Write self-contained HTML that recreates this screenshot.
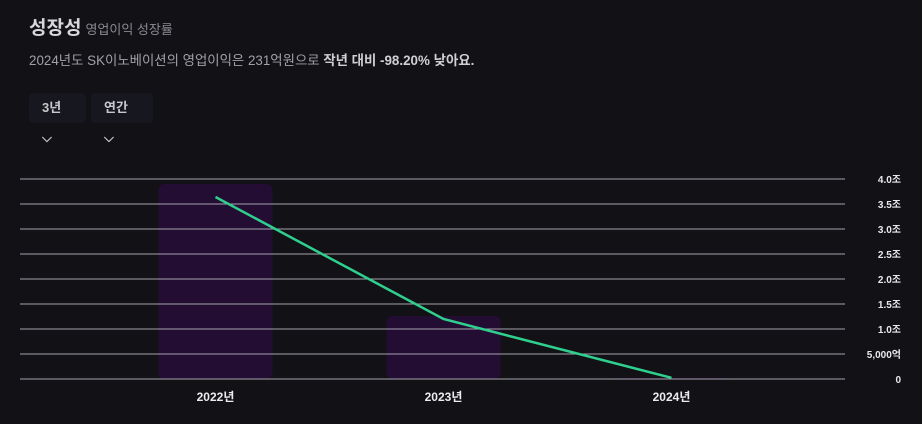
<!DOCTYPE html>
<html><head><meta charset="utf-8"><style>
body{margin:0;width:922px;height:424px;background:#111116;font-family:"Liberation Sans","Noto Sans CJK KR",sans-serif;overflow:hidden;position:relative}
.t{position:absolute;left:29px;top:13px;color:#d8d8dc;font-size:19px;font-weight:bold}
.t span{font-size:13px;font-weight:normal;color:#8a8a92;margin-left:4px}
.d{position:absolute;left:29px;top:49px;color:#a0a0a8;font-size:13.4px;white-space:nowrap}
.d b{color:#d0d0d4}
.btn{position:absolute;top:93px;height:30px;background:#17171f;border-radius:4px;color:#c8c8cc;font-size:13px;font-weight:bold;line-height:30px;padding:0 13px;box-sizing:border-box}
svg{position:absolute;left:0;top:0}
</style></head><body>
<div class="t">성장성<span>영업이익 성장률</span></div>
<div class="d">2024년도 SK이노베이션의 영업이익은 231억원으로 <b>작년 대비 -98.20% 낮아요.</b></div>
<div class="btn" style="left:29px;width:57px">3년 ⌵</div>
<div class="btn" style="left:91px;width:62px">연간 ⌵</div>
<svg id="c" width="922" height="424"></svg>
<script>
const categories=["2022년","2023년","2024년"];
const barValues=[3.9,1.26,0.0231];
const lineValues=[3.64,1.2,0.0231];
const tickValues=[0,0.5,1,1.5,2,2.5,3,3.5,4];
const tickLabels=["0","5,000억","1.0조","1.5조","2.0조","2.5조","3.0조","3.5조","4.0조"];
const NS="http://www.w3.org/2000/svg",svg=document.getElementById('c');
const y=v=>379-v*50, x=i=>215.5+i*228;
function mk(t,a){const e=document.createElementNS(NS,t);for(const k in a)e.setAttribute(k,a[k]);svg.appendChild(e);return e;}
barValues.forEach((v,i)=>{const h=Math.max(379-y(v),1);
const r=mk('rect',{x:x(i)-57,y:379-h,width:114,height:h,rx:Math.min(6,h/2),fill:'#240d33'});

});
tickValues.forEach((v,i)=>{const l=mk('line',{x1:20,x2:845,y1:y(v),y2:y(v),stroke:'#b4b2bc','stroke-width':1,opacity:0.9});


const t=mk('text',{x:901,y:y(v)+4,'text-anchor':'end',fill:'#e8e8ec','font-size':10,'font-weight':'bold'});
t.textContent=tickLabels[i];

});
const p=mk('polyline',{points:lineValues.map((v,i)=>x(i)+','+y(v)).join(' '),fill:'none',stroke:'#2fcf8e','stroke-width':2.5});


categories.forEach((c,i)=>{const t=mk('text',{x:x(i),y:401,'text-anchor':'middle',fill:'#ececf0','font-size':12,'font-weight':'bold'});
t.textContent=c;

});
</script>
</body></html>
